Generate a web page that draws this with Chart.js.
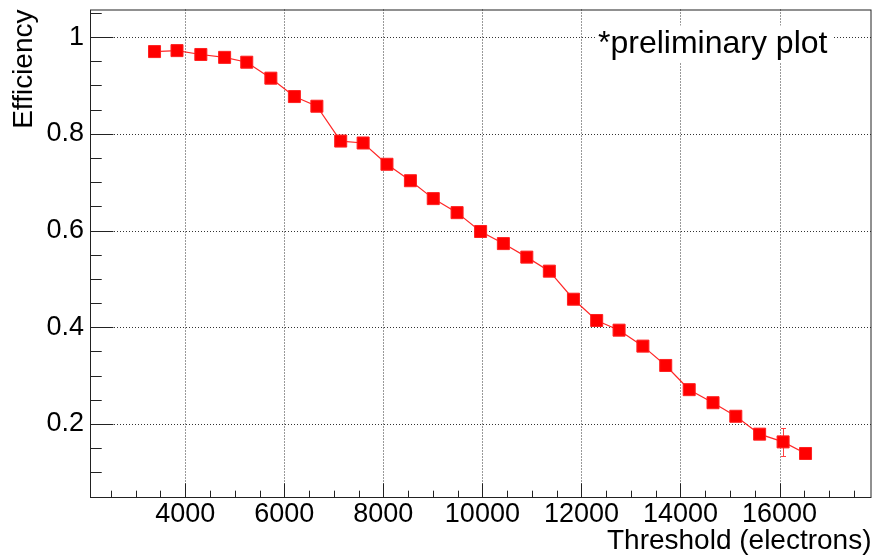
<!DOCTYPE html>
<html>
<head>
<meta charset="utf-8">
<script src="https://cdn.jsdelivr.net/npm/chart.js@4"></script>
<style>
  html, body { margin: 0; padding: 0; background: #fff; }
  #wrap { width: 881px; height: 558px; }
</style>
</head>
<body>
<div id="wrap"><canvas id="effChart" width="881" height="558"></canvas></div>
<script>
// threshold scan, values
const thresholds = [3380, 3834, 4315, 4795, 5242, 5729, 6204, 6658, 7139, 7592,
    8073, 8547, 9008, 9489, 9964, 10424, 10897, 11352, 11839, 12308,
    12760, 13241, 13702, 14176, 14657, 15117, 15598, 16072, 16525];
const efficiency = [0.970, 0.972, 0.964, 0.958, 0.948, 0.915, 0.877, 0.857, 0.785, 0.781,
    0.737, 0.703, 0.666, 0.637, 0.598, 0.573, 0.545, 0.516, 0.458, 0.414,
    0.394, 0.361, 0.321, 0.271, 0.244, 0.216, 0.179, 0.163, 0.139];
const efficiencyErr = [0, 0, 0, 0, 0, 0, 0, 0, 0.004, 0,
    0, 0, 0, 0, 0, 0, 0, 0, 0, 0,
    0, 0, 0, 0, 0, 0, 0, 0.029, 0];
const xTicks = [4000, 6000, 8000, 10000, 12000, 14000, 16000];
const yTicks = [0.2, 0.4, 0.6, 0.8, 1];
const xRange = [2077, 17857];
const yRange = [0.047, 1.057];

const FONT = 'Liberation Sans, Arial, Helvetica, sans-serif';

// ROOT-like frame: dotted grid, inward ticks, error bars, label box
const rootStyle = {
    id: 'rootStyle',
    beforeDatasetsDraw(chart) {
        const { ctx, chartArea: a, scales: { x, y } } = chart;
        ctx.save();
        ctx.strokeStyle = '#333';
        ctx.lineWidth = 1;
        ctx.setLineDash([1, 2]);
        xTicks.forEach(v => {
            const px = Math.round(x.getPixelForValue(v)) + 0.5;
            ctx.beginPath(); ctx.moveTo(px, a.top); ctx.lineTo(px, a.bottom); ctx.stroke();
        });
        yTicks.forEach(v => {
            const py = Math.round(y.getPixelForValue(v)) + 0.5;
            ctx.beginPath(); ctx.moveTo(a.left, py); ctx.lineTo(a.right, py); ctx.stroke();
        });
        ctx.setLineDash([]);

        // error bars
        ctx.strokeStyle = '#ff4040';
        thresholds.forEach((t, i) => {
            const e = efficiencyErr[i];
            if (!e) return;
            const px = Math.round(x.getPixelForValue(t)) + 0.5;
            const y1 = Math.round(y.getPixelForValue(efficiency[i] + e)) + 0.5;
            const y2 = Math.round(y.getPixelForValue(efficiency[i] - e)) + 0.5;
            ctx.beginPath();
            ctx.moveTo(px, y1); ctx.lineTo(px, y2);
            ctx.moveTo(px - 2.5, y1); ctx.lineTo(px + 2.5, y1);
            ctx.moveTo(px - 2.5, y2); ctx.lineTo(px + 2.5, y2);
            ctx.stroke();
        });
        ctx.restore();
    },
    afterDatasetsDraw(chart) {
        const { ctx, chartArea: a, scales: { x, y } } = chart;
        const w = a.right - a.left;
        const h = a.bottom - a.top;
        ctx.save();

        // label box
        ctx.fillStyle = '#fff';
        ctx.fillRect(a.left + 506, a.top + 16, 236, 37);
        ctx.fillStyle = '#000';
        ctx.font = '32px ' + FONT;
        ctx.textBaseline = 'alphabetic';
        ctx.fillText('*preliminary plot', a.left + 508, a.top + 43);

        // frame
        ctx.strokeStyle = '#222';
        ctx.lineWidth = 1;
        ctx.strokeRect(a.left + 0.5, a.top + 0.5, w - 1, h - 1);

        // tick marks pointing inward
        ctx.beginPath();
        for (let v = 2500; v <= xRange[1]; v += 500) {
            const px = Math.round(x.getPixelForValue(v)) + 0.5;
            const len = v % 2000 === 0 ? h * 0.03 : h * 0.015;
            ctx.moveTo(px, a.bottom); ctx.lineTo(px, a.bottom - len);
        }
        for (let k = 1; k * 0.05 <= yRange[1]; k++) {
            const v = k * 0.05;
            const py = Math.round(y.getPixelForValue(v)) + 0.5;
            const len = k % 4 === 0 ? w * 0.03 : w * 0.015;
            ctx.moveTo(a.left, py); ctx.lineTo(a.left + len, py);
        }
        ctx.stroke();
        ctx.restore();
    }
};

new Chart(document.getElementById('effChart'), {
    type: 'line',
    data: {
        datasets: [{
            data: thresholds.map((t, i) => ({ x: t, y: efficiency[i] })),
            borderColor: 'rgba(255,0,0,0.85)',
            borderWidth: 1.2,
            pointStyle: 'rect',
            pointRadius: 8.5,
            pointBackgroundColor: '#ff0000',
            pointBorderColor: '#ff2020',
            pointBorderWidth: 1,
            tension: 0,
            clip: false
        }]
    },
    options: {
        responsive: false,
        animation: false,
        devicePixelRatio: 1,
        layout: { padding: { top: 9, right: 1, left: 0, bottom: 0 } },
        plugins: { legend: { display: false }, tooltip: { enabled: false } },
        scales: {
            x: {
                type: 'linear',
                min: xRange[0],
                max: xRange[1],
                afterBuildTicks: s => { s.ticks = xTicks.map(v => ({ value: v })); },
                afterFit: s => { s.height = 60; s.paddingLeft = 0; s.paddingRight = 0; },
                grid: { display: false, drawTicks: false },
                border: { display: false },
                ticks: {
                    color: '#000',
                    font: { family: FONT, size: 27 },
                    padding: 0,
                    maxRotation: 0,
                    autoSkip: false,
                    callback: v => String(v)
                },
                title: {
                    display: true,
                    text: 'Threshold (electrons)',
                    align: 'end',
                    color: '#000',
                    font: { family: FONT, size: 28 },
                    padding: { top: 3, bottom: 0 }
                }
            },
            y: {
                min: yRange[0],
                max: yRange[1],
                afterBuildTicks: s => { s.ticks = yTicks.map(v => ({ value: v })); },
                afterFit: s => { s.width = 90; s.paddingTop = 0; s.paddingBottom = 0; },
                grid: { display: false, drawTicks: false },
                border: { display: false },
                ticks: {
                    color: '#000',
                    font: { family: FONT, size: 27 },
                    padding: 6,
                    autoSkip: false,
                    callback: v => String(Math.round(v * 10) / 10)
                },
                title: {
                    display: true,
                    text: 'Efficiency',
                    align: 'end',
                    color: '#000',
                    font: { family: FONT, size: 28 },
                    padding: { top: 7, bottom: 0 }
                }
            }
        }
    },
    plugins: [rootStyle]
});
</script>
</body>
</html>
